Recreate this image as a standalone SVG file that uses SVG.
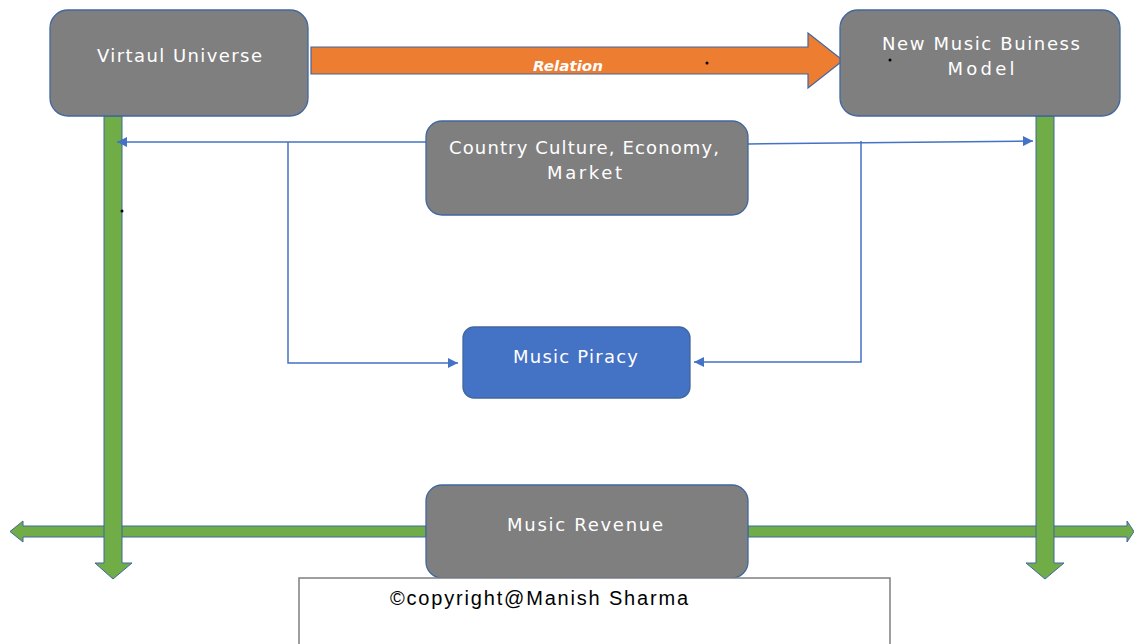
<svg xmlns="http://www.w3.org/2000/svg" width="1134" height="644" viewBox="0 0 1134 644">
<style>
.box{fill:#7f7f7f;stroke:#41679f;stroke-width:1.3}
.blue{fill:#4472c4;stroke:#41679f;stroke-width:1.3}
.lbl{font-family:"DejaVu Sans","Open Sans",sans-serif;font-size:18px;fill:#ffffff;text-anchor:middle}
.green{fill:#70ad47;stroke:#41679f;stroke-width:1}
.conn{fill:none;stroke:#4472c4;stroke-width:1.5}
</style>
<defs>
<marker id="ah" viewBox="0 0 10 10" refX="10" refY="5" markerWidth="12" markerHeight="10" markerUnits="userSpaceOnUse" orient="auto">
<path d="M0,0 L10,5 L0,10 z" fill="#4472c4"/>
</marker>
<clipPath id="shaft"><rect x="311" y="47" width="540" height="27"/></clipPath>
</defs>
<g id="green-arrows">
<path class="green" d="M23,526 L426,526 L426,537 L23,537 L23,542 L10,531.5 L23,521 Z"/>
<path class="green" d="M748,526 L1127,526 L1127,521 L1134,531.5 L1127,542 L1127,537 L748,537 Z"/>
<path class="green" d="M104,116 L122,116 L122,563 L132,563 L113,579 L95,563 L104,563 Z"/>
<path class="green" d="M1036,116 L1054,116 L1054,563 L1064,563 L1045,579 L1026,563 L1036,563 Z"/>
</g>
<g id="connectors">
<line class="conn" x1="426" y1="142" x2="117" y2="142" marker-end="url(#ah)"/>
<polyline class="conn" points="288,142 288,363 458,363" marker-end="url(#ah)"/>
<line class="conn" x1="748" y1="144" x2="1033" y2="141" marker-end="url(#ah)"/>
<polyline class="conn" points="861,141 861,362 694,362" marker-end="url(#ah)"/>
</g>
<g id="relation">
<path d="M311,47 L808,47 L808,33 L843,60.5 L808,88 L808,74 L311,74 Z" fill="#ed7d31" stroke="#41679f" stroke-width="1.2"/>
<text x="568" y="71" clip-path="url(#shaft)" font-family="'DejaVu Sans',sans-serif" font-size="14" font-style="italic" font-weight="bold" fill="#ffffff" text-anchor="middle" textLength="70" lengthAdjust="spacingAndGlyphs">Relation</text>
<circle cx="707" cy="63" r="1.5" fill="#000"/>
</g>
<g id="virtaul-universe">
<rect class="box" x="50" y="10" width="258" height="106" rx="18"/>
<text class="lbl" x="179.5" y="62" textLength="165">Virtaul Universe</text>
</g>
<g id="new-music-business-model">
<rect class="box" x="840" y="10" width="280" height="106" rx="18"/>
<text class="lbl" x="981" y="50" textLength="198">New Music Buiness</text>
<text class="lbl" x="981" y="75" textLength="67">Model</text>
<circle cx="890" cy="60" r="1.5" fill="#000"/>
</g>
<g id="country-culture">
<rect class="box" x="426" y="121" width="322" height="94" rx="16"/>
<text class="lbl" x="584" y="154" textLength="270">Country Culture, Economy,</text>
<text class="lbl" x="584.5" y="179" textLength="75">Market</text>
</g>
<g id="music-piracy">
<rect class="blue" x="463" y="327" width="227" height="71" rx="11"/>
<text class="lbl" x="575.5" y="363" textLength="125">Music Piracy</text>
</g>
<g id="music-revenue">
<rect class="box" x="426" y="485" width="322" height="93" rx="16"/>
<text class="lbl" x="585" y="531" textLength="156">Music Revenue</text>
</g>
<circle cx="122" cy="211" r="1.5" fill="#000"/>
<g id="copyright">
<rect x="299" y="578" width="591" height="70" fill="#ffffff" stroke="#7f7f7f" stroke-width="1.5"/>
<text x="390" y="605" font-family="'Liberation Sans',Arial,sans-serif" font-size="20" fill="#000000" textLength="298">©copyright@Manish Sharma</text>
</g>
</svg>
